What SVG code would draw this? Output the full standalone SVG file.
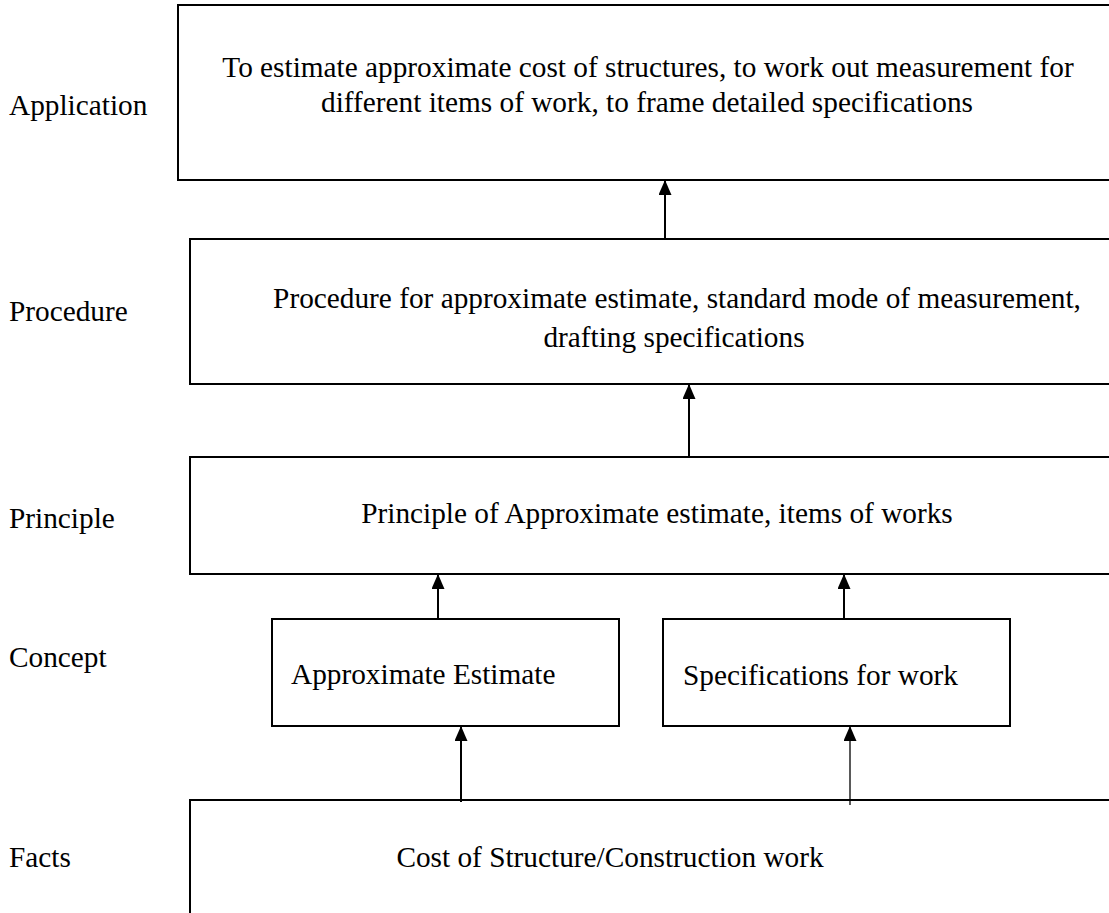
<svg xmlns="http://www.w3.org/2000/svg" width="1109" height="913" viewBox="0 0 1109 913">
<style>
.box{fill:#fff;stroke:#000;stroke-width:2}
.t{font-family:"Liberation Serif","Times New Roman",serif;font-size:29.3px;fill:#000}
.c{text-anchor:middle}
.conn line{stroke:#000;stroke-width:2}
</style>
<defs>
<marker id="ah" markerWidth="15" markerHeight="13" refX="14" refY="6.5" orient="auto" markerUnits="userSpaceOnUse" viewBox="0 0 15 13">
<path d="M0,0 L15,6.5 L0,13 Z" fill="#000"/>
</marker>
</defs>
<rect width="1109" height="913" fill="#fff"/>
<g id="labels">
<text class="t" x="9" y="115">Application</text>
<text class="t" x="9" y="321">Procedure</text>
<text class="t" x="9" y="528">Principle</text>
<text class="t" x="9" y="667">Concept</text>
<text class="t" x="9" y="867">Facts</text>
</g>
<g id="application">
<rect class="box" x="178" y="5" width="940" height="175"/>
<text class="t c" x="648" y="77">To estimate approximate cost of structures, to work out measurement for</text>
<text class="t c" x="647" y="112">different items of work, to frame detailed specifications</text>
</g>
<g id="procedure">
<rect class="box" x="190" y="239" width="930" height="145"/>
<text class="t c" x="677" y="308">Procedure for approximate estimate, standard mode of measurement,</text>
<text class="t c" x="674" y="347">drafting specifications</text>
</g>
<g id="principle">
<rect class="box" x="190" y="457" width="930" height="117"/>
<text class="t c" x="657" y="523">Principle of Approximate estimate, items of works</text>
</g>
<g id="concept1">
<rect class="box" x="272" y="619" width="347" height="107"/>
<text class="t" x="291" y="684">Approximate Estimate</text>
</g>
<g id="concept2">
<rect class="box" x="663" y="619" width="347" height="107"/>
<text class="t" x="683" y="685">Specifications for work</text>
</g>
<g id="facts">
<rect class="box" x="190" y="800" width="930" height="130"/>
<text class="t c" x="610" y="867">Cost of Structure/Construction work</text>
</g>
<g id="connectors" class="conn">
<line x1="665" y1="239" x2="665" y2="181" marker-end="url(#ah)"/>
<line x1="689" y1="457" x2="689" y2="385" marker-end="url(#ah)"/>
<line x1="438" y1="619" x2="438" y2="575" marker-end="url(#ah)"/>
<line x1="844" y1="619" x2="844" y2="575" marker-end="url(#ah)"/>
<line x1="461" y1="802" x2="461" y2="727" marker-end="url(#ah)"/>
<line x1="850" y1="805" x2="850" y2="727" marker-end="url(#ah)" style="stroke-width:1.3"/>
</g>
</svg>
